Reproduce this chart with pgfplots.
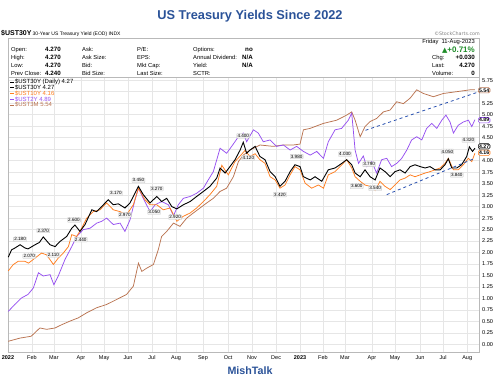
\documentclass[border=0pt]{standalone}
\usepackage{pgfplots}
\pgfplotsset{compat=1.18}
\usepackage{fontspec}
\setmainfont{Liberation Sans}
\newfontfamily\dejavu{DejaVu Sans}
\definecolor{c10}{RGB}{255,125,30}
\definecolor{c2}{RGB}{150,80,240}
\definecolor{c3m}{RGB}{185,115,80}
\definecolor{tblue}{RGB}{42,82,152}
\definecolor{dblue}{RGB}{40,80,175}
\definecolor{upgreen}{RGB}{30,140,40}
\definecolor{gridc}{RGB}{230,230,230}
\definecolor{framec}{RGB}{185,185,185}
\newcommand{\fs}[1]{\fontsize{#1}{#1}\selectfont}
\tikzset{dl/.style={font=\fs{4.6}, fill=gray!10, draw=gray!45, inner sep=0.7pt, line width=0.3pt, rounded corners=0.5pt},
 tag/.style={font=\fs{5.2}\bfseries, fill=white, line width=0.6pt, rounded corners=1.5pt, inner sep=0.8pt, anchor=west, xshift=-1.5pt},
 il/.style={font=\fs{5.8}, anchor=base west, inner sep=0pt},
 iv/.style={font=\fs{6.2}\bfseries, anchor=base west, inner sep=0pt},
 ir/.style={font=\fs{6.2}\bfseries, anchor=base east, inner sep=0pt}}
\begin{document}
\begin{tikzpicture}
\path[use as bounding box] (0pt,0pt) rectangle (500pt,383pt);
\begin{scope}[x=1pt,y=1pt]
\node[font=\fs{12.8}\bfseries, text=tblue] at (250,367) {US Treasury Yields Since 2022};
\node[anchor=base west, inner sep=0pt] at (1,347) {\fs{7}\bfseries \$UST30Y\,\fs{5}\mdseries 30-Year US Treasury Yield (EOD) INDX};
\node[anchor=base east, inner sep=0pt, text=gray, font=\fs{4.8}] at (480,347) {\dejavu ©StockCharts.com};
\draw[framec, line width=0.5pt] (8,306) rectangle (479.5,345);
\node[il] at (11,331) {Open:};      \node[iv] at (45,331) {4.270};
\node[il] at (11,323.3) {High:};    \node[iv] at (45,323.3) {4.270};
\node[il] at (11,315.5) {Low:};     \node[iv] at (45,315.5) {4.270};
\node[il] at (11,307.6) {Prev Close:}; \node[iv] at (45,307.6) {4.240};
\node[il] at (82,331) {Ask:};
\node[il] at (82,323.3) {Ask Size:};
\node[il] at (82,315.5) {Bid:};
\node[il] at (82,307.6) {Bid Size:};
\node[il] at (137,331) {P/E:};
\node[il] at (137,323.3) {EPS:};
\node[il] at (137,315.5) {Mkt Cap:};
\node[il] at (137,307.6) {Last Size:};
\node[il] at (193,331) {Options:};          \node[ir] at (253,331) {no};
\node[il] at (193,323.3) {Annual Dividend:};  \node[ir] at (253,323.3) {N/A};
\node[il] at (193,315.5) {Yield:};           \node[ir] at (253,315.5) {N/A};
\node[il] at (193,307.6) {SCTR:};
\node[anchor=base east, inner sep=0pt, font=\fs{5.8}] at (475,339.5) {Friday\ \ 11-Aug-2023};
\node[anchor=base east, inner sep=0pt, font=\fs{8}\bfseries, text=upgreen] at (475,330.5) {{\dejavu\fs{7}▲}+0.71\%};
\node[il] at (432,323.3) {Chg:};    \node[ir] at (475,323.3) {+0.030};
\node[il] at (432,315.5) {Last:};   \node[ir] at (475,315.5) {4.270};
\node[il] at (432,307.6) {Volume:}; \node[ir] at (475,307.6) {0};
\node[font=\fs{10.7}\bfseries, text=tblue] at (250,12) {MishTalk};
\end{scope}
\begin{axis}[
 at={(8pt,31pt)}, anchor=south west, scale only axis, width=471.5pt, height=275pt,
 xmin=0, xmax=19.52, ymin=-0.163, ymax=5.819, clip=false,
 axis line style={framec, line width=0.5pt},
 grid=major, major grid style={gridc, line width=0.4pt},
 major tick length=0pt,
 xtick={0,0.99,1.90,3.02,3.98,4.97,5.96,6.96,8.07,9.11,10.10,11.10,12.09,13.04,13.95,15.07,16.02,17.06,18.01,19.01},
 xticklabels={\textbf{2022},Feb,Mar,Apr,May,Jun,Jul,Aug,Sep,Oct,Nov,Dec,\textbf{2023},Feb,Mar,Apr,May,Jun,Jul,Aug},
 xticklabel style={font=\fs{5.5}, anchor=north, inner sep=0pt, yshift=-3.2pt},
 ytick={0,0.25,0.5,0.75,1,1.25,1.5,1.75,2,2.25,2.5,2.75,3,3.25,3.5,3.75,4,4.25,4.5,4.75,5,5.25,5.5,5.75},
 yticklabels={0.00,0.25,0.50,0.75,1.00,1.25,1.50,1.75,2.00,2.25,2.50,2.75,3.00,3.25,3.50,3.75,4.00,,4.50,4.75,5.00,5.25,,5.75},
 yticklabel pos=right,
 yticklabel style={font=\fs{5.6}, anchor=west, inner sep=0pt, xshift=2.5pt},
 legend style={at={(0,1)}, anchor=north west, xshift=1.5pt, yshift=-2pt, draw=none, fill=none, inner sep=0pt, font=\fs{6}, row sep=0pt, nodes={inner sep=0.3pt, text height=4.2pt, text depth=1pt}},
 legend cell align=left,
 legend image code/.code={\draw[#1] (0pt,0pt) -- (4pt,0pt);},
]
\addlegendimage{black, line width=1pt}
\addlegendentry{\$UST30Y (Daily) 4.27}
\addlegendimage{black, line width=1pt}
\addlegendentry{\$UST30Y 4.27}
\addlegendimage{c10, line width=1pt}
\addlegendentry{\textcolor{c10}{\$UST10Y 4.16}}
\addlegendimage{c2, line width=1pt}
\addlegendentry{\textcolor{c2}{\$UST2Y 4.89}}
\addlegendimage{c3m, line width=1pt}
\addlegendentry{\textcolor{c3m}{\$UST3M 5.54}}
\addplot[c3m, line width=0.75pt, forget plot] coordinates {
(0.01,0.07)(0.50,0.14)(0.96,0.18)(1.32,0.36)(1.60,0.33)(1.95,0.36)(2.22,0.43)(2.57,0.51)
(2.91,0.58)(3.26,0.69)(3.67,0.80)(4.08,0.87)(4.50,0.98)(4.91,1.09)(5.19,1.27)(5.40,1.77)
(5.54,1.59)(5.74,1.66)(6.02,1.74)(6.22,2.06)(6.36,2.35)(6.57,2.46)(6.85,2.64)(7.12,2.57)
(7.40,2.75)(7.67,2.86)(7.95,2.97)(8.23,3.08)(8.50,3.18)(8.78,3.33)(9.05,3.40)(9.33,3.65)
(9.54,3.98)(9.74,4.12)(10.02,4.23)(10.43,4.34)(10.98,4.31)(11.40,4.34)(11.81,4.34)(12.09,4.36)
(12.23,4.67)(12.50,4.70)(13.06,4.81)(13.61,4.88)(14.02,4.99)(14.23,5.06)(14.37,4.88)(14.58,4.52)
(14.78,4.74)(14.99,4.85)(15.27,4.92)(15.54,5.06)(15.82,5.10)(16.09,5.28)(16.37,5.24)(16.65,5.36)
(16.92,5.54)(17.20,5.46)(17.61,5.39)(18.02,5.46)(18.58,5.50)(19.13,5.54)(19.33,5.54)};
\addplot[c2, line width=0.75pt, forget plot] coordinates {
(0.01,0.72)(0.28,0.87)(0.55,1.01)(0.83,1.09)(1.05,1.23)(1.26,1.56)(1.46,1.49)(1.74,1.52)
(1.90,1.30)(2.08,1.49)(2.36,1.85)(2.64,2.13)(2.84,2.35)(3.12,2.50)(3.40,2.53)(3.67,2.64)
(3.88,2.68)(4.08,2.75)(4.36,2.61)(4.64,2.64)(4.84,2.46)(5.05,2.71)(5.26,3.15)(5.40,3.40)
(5.60,3.18)(5.88,2.89)(6.09,3.04)(6.36,3.11)(6.64,3.04)(6.85,2.80)(7.05,3.04)(7.26,3.18)
(7.54,3.22)(7.81,3.29)(8.09,3.40)(8.29,3.58)(8.50,3.76)(8.78,4.27)(9.05,4.16)(9.26,4.31)
(9.54,4.52)(9.74,4.60)(9.88,4.41)(10.16,4.67)(10.36,4.60)(10.57,4.41)(10.85,4.45)(11.12,4.31)
(11.40,4.34)(11.68,4.23)(11.95,4.31)(12.23,4.20)(12.51,4.12)(12.78,4.20)(13.06,4.05)(13.26,4.41)
(13.54,4.67)(13.81,4.70)(14.09,4.88)(14.23,5.03)(14.37,4.23)(14.51,3.94)(14.71,4.10)(14.85,3.87)
(15.06,3.98)(15.26,3.73)(15.47,4.02)(15.68,4.05)(15.88,3.87)(16.09,3.94)(16.30,4.05)(16.51,4.23)
(16.71,4.45)(16.92,4.52)(17.13,4.45)(17.33,4.70)(17.54,4.81)(17.75,4.70)(17.96,4.88)(18.13,4.99)
(18.30,4.84)(18.44,4.60)(18.64,4.77)(18.85,4.84)(19.06,4.88)(19.20,4.74)(19.33,4.89)};
\addplot[c10, line width=0.75pt, forget plot] coordinates {
(0.01,1.60)(0.22,1.74)(0.42,1.81)(0.70,1.81)(0.85,1.77)(1.12,1.88)(1.39,1.99)(1.60,1.95)
(1.88,1.74)(2.08,1.88)(2.29,1.99)(2.50,2.13)(2.64,2.39)(2.84,2.35)(3.05,2.53)(3.26,2.75)
(3.53,2.89)(3.81,2.93)(4.08,3.08)(4.36,2.93)(4.64,2.89)(4.91,2.82)(5.19,3.04)(5.40,3.40)
(5.67,3.15)(5.88,3.04)(6.16,3.04)(6.43,2.93)(6.71,2.97)(6.99,2.68)(7.26,2.79)(7.54,2.86)
(7.81,2.97)(8.09,3.11)(8.36,3.26)(8.64,3.44)(8.85,3.90)(9.12,3.69)(9.40,3.98)(9.61,4.10)
(9.81,4.22)(10.02,4.09)(10.23,4.15)(10.43,4.02)(10.64,3.94)(10.85,3.65)(11.06,3.58)(11.26,3.40)
(11.47,3.47)(11.68,3.69)(11.88,3.87)(12.09,3.80)(12.30,3.51)(12.57,3.40)(12.85,3.47)(13.06,3.40)
(13.26,3.69)(13.54,3.76)(13.82,3.91)(14.02,4.02)(14.23,3.84)(14.37,3.65)(14.58,3.55)(14.78,3.47)
(14.99,3.44)(15.20,3.35)(15.40,3.55)(15.61,3.44)(15.82,3.37)(16.02,3.47)(16.23,3.58)(16.44,3.62)
(16.65,3.69)(16.85,3.65)(17.06,3.69)(17.27,3.73)(17.47,3.76)(17.68,3.80)(17.89,3.84)(18.09,3.94)
(18.23,4.05)(18.44,3.80)(18.64,3.80)(18.85,3.91)(19.06,4.05)(19.20,3.98)(19.33,4.16)};
\addplot[black, line width=0.9pt, forget plot] coordinates {
(0.01,1.90)(0.15,2.06)(0.29,2.10)(0.50,2.17)(0.70,2.10)(0.83,2.08)(1.12,2.17)(1.30,2.22)
(1.46,2.34)(1.74,2.17)(1.95,2.13)(2.15,2.24)(2.43,2.35)(2.64,2.53)(2.77,2.60)(2.98,2.46)
(3.19,2.61)(3.47,2.93)(3.67,2.89)(3.95,3.04)(4.15,3.15)(4.36,3.04)(4.57,3.06)(4.84,2.97)
(5.05,3.08)(5.12,3.15)(5.40,3.44)(5.60,3.26)(5.88,3.08)(6.16,3.22)(6.36,3.11)(6.57,3.18)
(6.78,3.00)(6.99,2.95)(7.26,3.04)(7.54,3.11)(7.81,3.22)(8.09,3.33)(8.36,3.44)(8.64,3.62)
(8.78,3.84)(8.99,3.73)(9.19,3.87)(9.40,4.02)(9.61,4.23)(9.74,4.40)(9.88,4.16)(10.02,4.23)
(10.23,4.31)(10.43,4.09)(10.64,4.02)(10.85,3.76)(11.06,3.65)(11.26,3.44)(11.47,3.55)(11.68,3.76)
(11.88,3.91)(12.09,3.87)(12.23,3.65)(12.51,3.58)(12.71,3.65)(12.99,3.55)(13.26,3.80)(13.54,3.84)
(13.82,3.94)(14.02,4.02)(14.23,3.91)(14.37,3.73)(14.58,3.65)(14.78,3.80)(14.99,3.65)(15.20,3.58)
(15.40,3.84)(15.61,3.76)(15.82,3.65)(16.02,3.76)(16.23,3.80)(16.44,3.73)(16.65,3.87)(16.85,3.91)
(17.06,3.87)(17.27,3.84)(17.47,3.87)(17.68,3.80)(17.89,3.80)(18.09,3.91)(18.23,4.04)(18.37,3.84)
(18.58,3.84)(18.78,3.91)(18.99,4.09)(19.10,4.30)(19.23,4.20)(19.33,4.27)};
\addplot[dblue, dashed, line width=0.8pt, forget plot] coordinates {(14.80,4.66)(19.40,5.48)};
\addplot[dblue, dashed, line width=0.8pt, forget plot] coordinates {(15.68,3.26)(19.33,4.05)};
\node[dl] at (axis cs:0.50,2.29) {2.180};
\node[dl] at (axis cs:1.46,2.48) {2.370};
\node[dl] at (axis cs:2.73,2.71) {2.600};
\node[dl] at (axis cs:4.47,3.29) {3.170};
\node[dl] at (axis cs:0.88,1.92) {2.070};
\node[dl] at (axis cs:1.88,1.95) {2.110};
\node[dl] at (axis cs:3.01,2.28) {2.440};
\node[dl] at (axis cs:4.84,2.82) {2.970};
\node[dl] at (axis cs:5.40,3.57) {3.450};
\node[dl] at (axis cs:6.16,3.39) {3.270};
\node[dl] at (axis cs:6.05,2.88) {3.050};
\node[dl] at (axis cs:6.92,2.77) {2.920};
\node[dl] at (axis cs:9.74,4.54) {4.400};
\node[dl] at (axis cs:9.95,4.06) {4.120};
\node[dl] at (axis cs:11.95,4.09) {3.980};
\node[dl] at (axis cs:11.26,3.26) {3.420};
\node[dl] at (axis cs:13.95,4.14) {4.030};
\node[dl] at (axis cs:14.95,3.92) {3.790};
\node[dl] at (axis cs:14.44,3.44) {3.600};
\node[dl] at (axis cs:15.20,3.40) {3.540};
\node[dl] at (axis cs:18.19,4.20) {4.050};
\node[dl] at (axis cs:18.58,3.69) {3.840};
\node[dl] at (axis cs:19.06,4.45) {4.320};
\node[tag, draw=c3m] at (axis cs:19.52,5.53) {5.54};
\node[tag, draw=c2] at (axis cs:19.52,4.88) {4.89};
\node[tag, draw=black] at (axis cs:19.52,4.31) {4.27};
\node[tag, draw=c10] at (axis cs:19.52,4.17) {4.16};
\end{axis}
\end{tikzpicture}
\end{document}
